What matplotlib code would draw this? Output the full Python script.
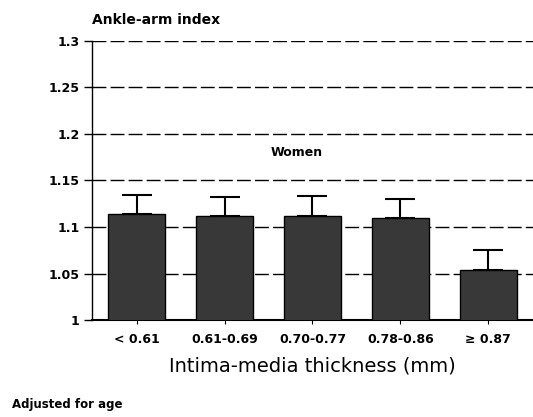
import matplotlib.pyplot as plt

# datos
grupos = ['< 0.61', '0.61-0.69', '0.70-0.77', '0.78-0.86', '\u2265 0.87']
indice = [1.114, 1.112, 1.112, 1.110, 1.054]
error_sup = [0.020, 0.020, 0.021, 0.020, 0.021]
y_ticks = [1, 1.05, 1.1, 1.15, 1.2, 1.25, 1.3]
y_labels = ['1', '1.05', '1.1', '1.15', '1.2', '1.25', '1.3']

plt.rcParams['font.family'] = ['DejaVu Sans']

fig = plt.figure(figsize=(5.33, 4.17), dpi=100)
ax = fig.add_axes([0.1726, 0.2326, 0.8274, 0.6691])

x = range(len(grupos))
ax.bar(x, indice, width=0.65, color='#383838', edgecolor='black', linewidth=1.0,
       zorder=3,
       yerr=[[0] * len(error_sup), error_sup],
       error_kw=dict(ecolor='black', elinewidth=1.5, capsize=11, capthick=1.5))

ax.set_ylim(1, 1.3)
ax.set_xlim(-0.51, 4.51)

# lineas de cuadricula discontinuas
ax.yaxis.grid(True, linestyle=(0, (10, 3)), color='black', linewidth=1.0)
ax.set_axisbelow(True)

ax.set_yticks(y_ticks)
ax.set_yticklabels(y_labels, fontsize=9, fontweight='bold')
ax.set_xticks(list(x))
ax.set_xticklabels(grupos, fontsize=9, fontweight='bold')
ax.tick_params(axis='y', length=6, width=1, pad=3)
ax.tick_params(axis='x', length=3, width=0.8, pad=6)

for lado in ['top', 'right']:
    ax.spines[lado].set_visible(False)
ax.spines['left'].set_linewidth(1.0)
ax.spines['bottom'].set_linewidth(1.5)

ax.set_xlabel('Intima-media thickness (mm)', fontsize=14, labelpad=8)

ax.text(0.465, 0.6, 'Women', transform=ax.transAxes, ha='center', va='center',
        fontsize=9, fontweight='bold')
fig.text(0.172, 0.952, 'Ankle-arm index', ha='left', va='center',
         fontsize=10, fontweight='bold')
fig.text(0.022, 0.03, 'Adjusted for age', ha='left', va='center',
         fontsize=8.5, fontweight='bold')

fig.savefig('out.png', dpi=100)
